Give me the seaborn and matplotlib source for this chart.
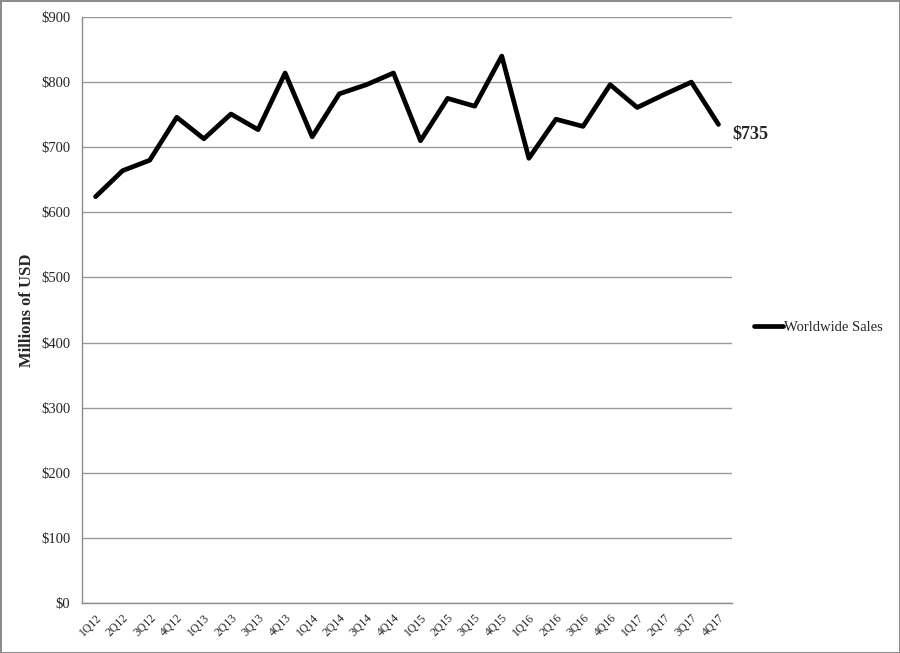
import matplotlib
matplotlib.use("Agg")
import matplotlib.pyplot as plt
from matplotlib.ticker import FixedLocator, FuncFormatter
import pandas as pd
import seaborn as sns

# Quarter labels and worldwide sales (millions USD)
quarters = ["1Q12", "2Q12", "3Q12", "4Q12", "1Q13", "2Q13", "3Q13", "4Q13",
            "1Q14", "2Q14", "3Q14", "4Q14", "1Q15", "2Q15", "3Q15", "4Q15",
            "1Q16", "2Q16", "3Q16", "4Q16", "1Q17", "2Q17", "3Q17", "4Q17"]
sales = [624, 664, 680, 746, 713, 751, 727, 814,
         716, 782, 796, 814, 710, 775, 763, 840,
         683, 743, 732, 796, 761, 781, 800, 735]
y_ticks = [0, 100, 200, 300, 400, 500, 600, 700, 800, 900]

df = pd.DataFrame({"Quarter": quarters, "Sales": sales})

sns.set_style("white")
plt.rcParams["font.family"] = ["Liberation Serif", "DejaVu Serif"]

fig = plt.figure(figsize=(9, 6.53), dpi=100)
fig.patch.set_edgecolor("#8c8c8c")
fig.patch.set_linewidth(2)
ax = fig.add_axes([82 / 900, 1 - 603 / 653, (732 - 82) / 900, (603 - 17) / 653])

sns.lineplot(data=df, x="Quarter", y="Sales", ax=ax, color="black",
             linewidth=3.4, sort=False, label="Worldwide Sales")

ax.set_ylim(0, 900)
ax.set_xlim(-0.5, len(quarters) - 0.5)
ax.yaxis.set_major_locator(FixedLocator(y_ticks))
ax.yaxis.set_major_formatter(FuncFormatter(lambda v, p: "$%d" % v))
ax.grid(axis="y", color="#999999", linewidth=1)
ax.set_axisbelow(True)

# category labels centred, tick marks between categories
ax.set_xticks(range(len(quarters)))
ax.set_xticklabels(quarters, rotation=45, ha="right", rotation_mode="anchor", fontsize=8.5)
ax.set_xticks([i - 0.5 for i in range(len(quarters) + 1)], minor=True)
ax.tick_params(axis="x", which="major", length=0, pad=6)
ax.tick_params(axis="x", which="minor", length=4, color="#8c8c8c", direction="out")
ax.tick_params(axis="y", length=5, color="#8c8c8c", direction="out", labelsize=10.5)

for s in ["top", "right"]:
    ax.spines[s].set_visible(False)
for s in ["left", "bottom"]:
    ax.spines[s].set_color("#8c8c8c")
    ax.spines[s].set_linewidth(1)

ax.set_xlabel("")
ax.set_ylabel("Millions of USD", fontsize=12, fontweight="bold", labelpad=4)

# end-value label
ax.annotate("$%d" % sales[-1], xy=(len(quarters) - 1, sales[-1]),
            xytext=(10, -7), textcoords="offset points",
            fontsize=13, fontweight="bold", va="center", ha="left")

leg = ax.legend(loc="center left", bbox_to_anchor=(1.013, 0.47), frameon=False,
                fontsize=10.5, handlelength=2.0, handletextpad=0.1)

fig.savefig("out.png", dpi=100)
